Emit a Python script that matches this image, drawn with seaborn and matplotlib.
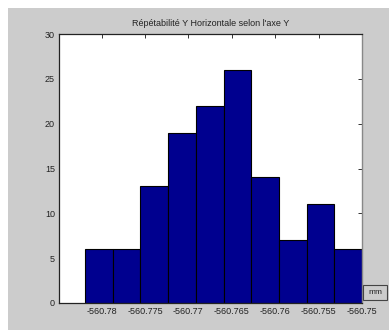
import numpy as np
import pandas as pd
import matplotlib
matplotlib.use("Agg")
import matplotlib.pyplot as plt
import seaborn as sns
from matplotlib.patches import Rectangle

title = "Répétabilité Y Horizontale selon l'axe Y"
unit_label = "mm"
data_min = -560.7819
data_max = -560.7500
n_bins = 10
counts = [6, 6, 13, 19, 22, 26, 14, 7, 11, 6]
x_ticks = [-560.78, -560.775, -560.77, -560.765, -560.76, -560.755, -560.75]
x_tick_labels = ["-560.78", "-560.775", "-560.77", "-560.765", "-560.76", "-560.755", "-560.75"]
y_ticks = [0, 5, 10, 15, 20, 25, 30]

edges = np.linspace(data_min, data_max, n_bins + 1)
centers = (edges[:-1] + edges[1:]) / 2
df = pd.DataFrame({"value": centers, "count": counts})

sns.set_style("white")
plt.rcParams['font.family'] = ['Liberation Sans', 'DejaVu Sans']

fig = plt.figure(figsize=(3.89, 3.30), dpi=100, facecolor="white")
fig.patches.append(Rectangle((8 / 389, 0), 1 - 8 / 389, 1 - 8 / 330, transform=fig.transFigure,
                             facecolor="#cccccc", edgecolor="none", zorder=-10))
ax = fig.add_axes([59 / 389, 27 / 330, 303 / 389, 269 / 330])
ax.set_facecolor("white")

sns.histplot(data=df, x="value", weights="count", bins=edges.tolist(), ax=ax,
             color="#00008f", edgecolor="black", linewidth=0.8, alpha=1.0, stat="count")

ax.set_xlim(-560.7849, -560.75)
ax.set_ylim(0, 30)
ax.set_xticks(x_ticks)
ax.set_xticklabels(x_tick_labels)
ax.set_yticks(y_ticks)
ax.set_xlabel("")
ax.set_ylabel("")
ax.tick_params(axis="both", direction="in", length=3, width=0.7, color="#333333",
               labelsize=6.5, labelcolor="#222222", top=True, right=True, pad=3)
for s in ["left", "bottom", "top"]:
    ax.spines[s].set_color("#222222")
    ax.spines[s].set_linewidth(0.9)
ax.spines["right"].set_color("#888888")
ax.spines["right"].set_linewidth(1.0)

fig.text((59 + 362) / 2 / 389, 1 - 23 / 330, title, ha="center", va="center",
         fontsize=6.5, color="#222222")

fig.patches.append(Rectangle((363 / 389, 30 / 330), 24 / 389, 15 / 330, transform=fig.transFigure,
                             facecolor="#cccccc", edgecolor="#444444", linewidth=0.8, zorder=5))
fig.text(375 / 389, 1 - 293 / 330, unit_label, ha="center", va="center",
         fontsize=6, color="#222222", zorder=10)

fig.savefig("out.png", dpi=100, facecolor=fig.get_facecolor())
